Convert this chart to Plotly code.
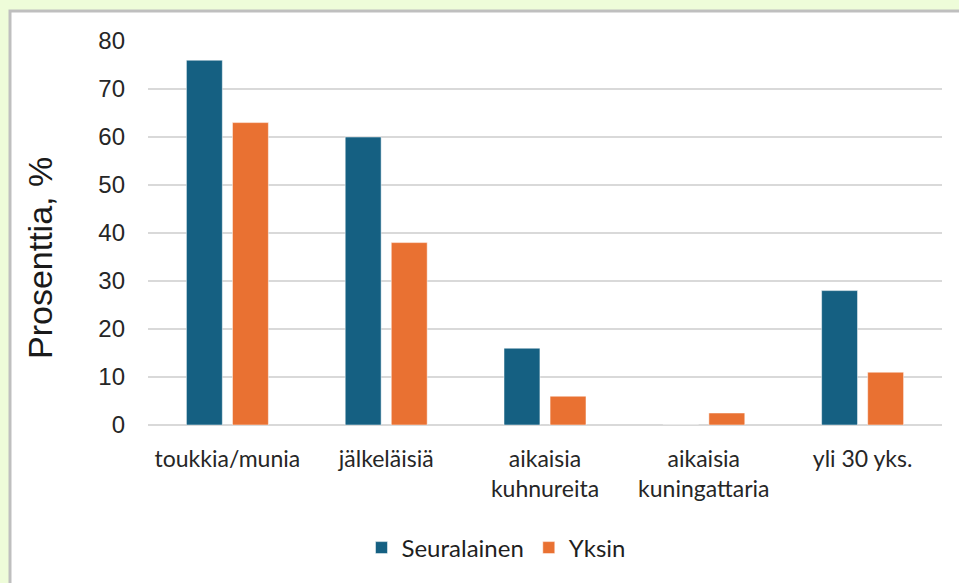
import plotly.graph_objects as go

categories = ["toukkia/munia", "jälkeläisiä", "aikaisia<br>kuhnureita",
              "aikaisia<br>kuningattaria", "yli 30 yks."]
seuralainen = [76, 60, 16, 0, 28]
yksin = [63, 38, 6, 2.5, 11]
y_ticks = [0, 10, 20, 30, 40, 50, 60, 70, 80]

W, H = 959, 583
L, R, T, B = 148, 17, 41, 158
pw, ph = W - L - R, H - T - B


def px_x(x):
    return (x - L) / pw


def px_y(y):
    return (H - B - y) / ph


fig = go.Figure()
fig.add_trace(go.Bar(x=categories, y=seuralainen, name="Seuralainen",
                     marker=dict(color="#156082", line=dict(color="#ffffff", width=0.5))))
fig.add_trace(go.Bar(x=categories, y=yksin, name="Yksin",
                     marker=dict(color="#E97132", line=dict(color="#ffffff", width=0.5))))

# white chart panel with grey frame on the green page
fig.add_shape(type="rect", xref="paper", yref="paper", layer="below",
              x0=px_x(10), x1=px_x(W + 20), y0=px_y(H + 20), y1=px_y(11),
              fillcolor="white", line=dict(color="#BFBFBF", width=3))

fig.add_annotation(text="Prosenttia, %", textangle=-90, showarrow=False,
                   xref="paper", yref="paper", x=px_x(40), y=px_y(258),
                   xanchor="center", yanchor="middle",
                   font=dict(family="Liberation Sans, Arial", size=34, color="#1a1a1a"))

fig.update_layout(
    width=W, height=H,
    margin=dict(l=L, r=R, t=T, b=B),
    paper_bgcolor="#EEFCD9",
    plot_bgcolor="rgba(0,0,0,0)",
    barmode="group", bargap=0.42, bargroupgap=0.22,
    showlegend=True,
    legend=dict(orientation="h", x=px_x(496), xanchor="center", y=px_y(548), yanchor="middle",
                bgcolor="rgba(0,0,0,0)",
                font=dict(family="Lato, sans-serif", size=24, color="#1f1f1f"),
                itemwidth=30, traceorder="normal"),
    xaxis=dict(tickfont=dict(family="Lato, sans-serif", size=23, color="#262626"),
               showgrid=False, showline=False, ticks="", ticklabelstandoff=18),
    yaxis=dict(range=[0, 80], tickvals=y_ticks,
               tickfont=dict(family="Liberation Sans, Arial", size=24, color="#262626"),
               gridcolor="#D9D9D9", gridwidth=2, zeroline=True, zerolinecolor="#D9D9D9",
               zerolinewidth=2, ticklabelstandoff=22, showline=False),
)

fig.write_html("out.html", config={"displayModeBar": False},
               post_script="document.body.style.margin='0';")
